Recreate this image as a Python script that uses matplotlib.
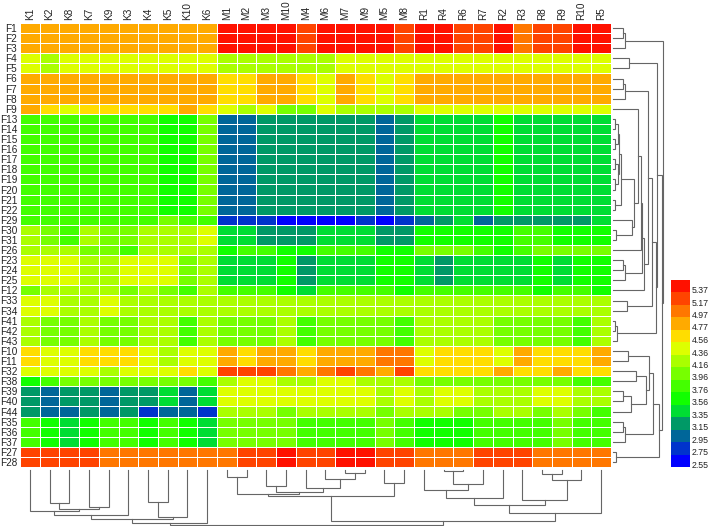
import matplotlib
matplotlib.use("Agg")
import matplotlib.pyplot as plt
from matplotlib.colors import ListedColormap, BoundaryNorm

plt.rcParams['font.family'] = ['Liberation Sans', 'DejaVu Sans']

# labels
col_labels = ["K1","K2","K8","K7","K9","K3","K4","K5","K10","K6",
              "M1","M2","M3","M10","M4","M6","M7","M9","M5","M8",
              "R1","R4","R6","R7","R2","R3","R8","R9","R10","R5"]
row_labels = ["F1","F2","F3","F4","F5","F6","F7","F8","F9",
              "F13","F14","F15","F16","F17","F18","F19","F20","F21","F22",
              "F29","F30","F31","F26","F23","F24","F25","F12","F33","F34",
              "F41","F42","F43","F10","F11","F32","F38","F39","F40","F44",
              "F35","F36","F37","F27","F28"]

# colour scale
levels = [2.55,2.75,2.95,3.15,3.35,3.56,3.76,3.96,4.16,4.36,4.56,4.77,4.97,5.17,5.37]
bounds = [2.45,2.65,2.85,3.05,3.25,3.45,3.66,3.86,4.06,4.26,4.46,4.66,4.87,5.07,5.27,5.47]
colors = ["#0000FF","#0033CC","#006699","#009966","#00DD33","#11FF00","#44FF00","#77FF00",
          "#AAFF00","#DDFF00","#FFDD00","#FFAA00","#FF7700","#FF4400","#FF1100"]

f1 = [4.77,4.77,4.77,4.77,4.77,4.77,4.77,4.77,4.77,4.77, 5.37,5.37,5.37,5.37,5.17,5.37,5.37,5.37,5.37,5.17, 5.37,5.37,5.17,5.17,5.37,4.97,5.17,5.17,5.37,5.37]
f4 = [4.36,4.16,4.36,4.36,4.36,4.36,4.36,4.36,4.36,4.36, 4.16,4.16,4.16,4.16,4.16,4.16,4.36,4.36,4.36,4.36, 4.36,4.36,4.36,4.36,4.36,4.36,4.36,4.36,4.36,4.36]
f6 = [4.77,4.77,4.77,4.77,4.77,4.77,4.77,4.77,4.77,4.77, 4.56,4.56,4.77,4.77,4.56,4.36,4.77,4.56,4.36,4.56, 4.77,4.77,4.77,4.77,4.77,4.77,4.77,4.77,4.77,4.77]
f9 = [4.77,4.56,4.36,4.56,4.56,4.56,4.56,4.56,4.77,4.56, 4.36,4.16,4.36,3.96,3.96,4.36,4.16,4.16,4.16,4.16, 4.36,4.36,4.36,4.36,4.36,4.36,4.36,4.36,4.36,4.36]
f13 = [3.76,3.76,3.76,3.76,3.76,3.76,3.76,3.56,3.56,3.96, 2.95,2.95,3.15,3.15,3.15,3.15,3.15,3.15,2.95,3.15, 3.35,3.35,3.35,3.35,3.56,3.35,3.35,3.35,3.35,3.35]
f29 = [3.76,3.76,3.76,3.76,3.76,3.76,3.76,3.96,3.76,3.76, 2.75,2.75,2.75,2.55,2.55,2.55,2.55,2.75,2.55,2.75, 2.95,3.15,3.35,2.95,3.15,3.15,3.15,3.15,3.15,3.35]
f30 = [4.16,3.96,3.76,4.16,3.96,3.96,4.16,4.16,4.16,4.36, 3.35,3.35,3.15,3.15,3.15,3.35,3.35,3.35,3.15,3.15, 3.56,3.56,3.56,3.56,3.56,3.76,3.76,3.56,3.56,3.56]
f26 = [4.16,4.16,4.16,3.96,3.96,3.76,4.16,4.16,4.16,4.16, 3.56,3.76,3.76,3.56,3.56,3.76,3.76,3.76,3.56,3.56, 3.96,3.96,3.96,3.76,3.56,3.76,3.96,3.96,3.96,3.96]
f23 = [4.36,4.36,4.36,4.16,4.16,4.36,4.36,4.36,3.96,4.16, 3.35,3.35,3.35,3.56,3.15,3.35,3.35,3.35,3.56,3.56, 3.35,3.15,3.35,3.35,3.35,3.35,3.56,3.35,3.56,3.56]
f12 = [3.96,4.16,4.16,4.16,4.16,3.96,4.16,3.96,3.76,4.16, 3.76,3.76,3.76,3.56,3.35,3.76,3.76,3.76,3.76,3.56, 3.76,3.76,3.76,3.76,3.76,3.76,3.56,3.76,3.76,3.56]
f33 = [4.36,4.36,4.16,4.16,4.36,4.16,4.16,4.16,4.16,4.16, 4.16,4.16,4.16,4.16,4.16,4.16,4.16,4.16,4.16,4.16, 4.16,4.16,4.16,4.16,4.16,4.16,4.16,4.16,4.16,4.16]
f41 = [4.16,3.96,3.96,4.16,3.96,3.96,4.16,4.16,3.76,4.16, 3.96,3.96,3.96,4.16,3.76,3.96,3.96,3.96,3.96,3.76, 4.16,4.16,4.16,4.16,3.96,3.96,3.96,3.96,3.76,4.16]
f10 = [4.56,4.36,4.36,4.56,4.56,4.56,4.36,4.16,4.36,4.36, 4.77,4.56,4.77,4.77,4.56,4.77,4.77,4.77,4.97,4.97, 4.36,4.56,4.56,4.56,4.36,4.77,4.56,4.56,4.56,4.77]
f32 = [4.36,4.36,4.36,4.36,4.16,4.36,4.36,4.36,4.56,4.36, 5.17,5.17,5.17,4.97,4.77,4.97,5.17,4.97,4.77,5.17, 4.56,4.56,4.56,4.56,4.77,4.56,4.56,4.77,4.56,4.56]
f38 = [3.56,3.76,3.96,3.96,3.96,3.96,3.96,3.96,3.96,3.76, 4.16,4.36,4.36,4.16,4.16,4.36,4.36,4.16,4.16,4.16, 3.96,3.96,3.96,3.96,3.96,3.96,3.96,3.96,3.76,3.76]
f39 = [3.15,2.95,3.15,3.15,2.95,3.15,3.15,3.35,2.95,3.35, 4.36,4.36,4.36,4.36,4.36,4.36,4.36,4.36,4.16,4.36, 4.16,4.36,4.36,4.16,4.16,4.16,4.36,4.36,4.16,4.16]
f44 = [3.15,2.95,2.95,3.15,2.95,3.15,2.75,2.95,2.95,2.75, 4.16,4.16,4.16,3.96,4.16,4.16,4.16,4.16,3.96,4.16, 4.16,4.16,3.96,3.96,4.16,4.16,3.96,4.16,3.96,3.76]
f35 = [3.76,3.56,3.35,3.56,3.76,3.76,3.56,3.76,3.56,3.35, 3.96,3.96,3.96,3.96,3.76,3.76,3.76,3.76,3.96,3.76, 3.56,3.56,3.56,3.76,3.76,3.76,3.76,3.96,3.76,3.76]
f27 = [5.17,5.17,5.17,5.17,4.97,4.97,4.97,4.97,4.97,4.97, 4.97,5.17,5.17,5.37,5.17,5.17,5.37,5.37,5.17,5.17, 4.97,4.97,4.97,5.17,5.17,5.17,4.97,4.97,4.97,4.97]

values = [f1]*3 + [f4]*2 + [f6]*3 + [f9] + [f13]*10 + [f29] + [f30]*2 + [f26] + [f23]*3 + [f12] \
    + [f33]*2 + [f41]*3 + [f10]*2 + [f32] + [f38] + [f39]*2 + [f44] + [f35]*3 + [f27]*2

# dendrograms as nested (left, right, height), leaves are row/column numbers
k_tree = (((((0, ((1,2,33.3), (3,4,37.3), 39.3), 41.3), 5, 45.3),
           ((6,7,31.7), 8, 47.3), 49.3), 9, 52.7))
m_tree = (((10,11,7), ((12,13,16), (14, (15,(16,17,2.7),9), 18), 22), 24), (18,19,12.7), 26)
r_tree = ((((((20, ((21,22,1),23,14), 20), 24, 27.7)),
           (25, ((26,27,4),28,10), 29.7), 35)), 29, 43)
col_tree = (k_tree, (m_tree, r_tree, 50.7), 55)

f13_tree = ((((9,10,2),(11,12,2),4.7), ((13,14,2),(15,16,2),4.7), 6), (17,18,2), 8)
f9_tree = (8, (f13_tree, (19,(20,21,2.7),19), 21.3), 25.3)
f23_tree = ((23,24,9.7),25,11.7)
upper_tree = ((3,4,15.7),
              ((((5,6,9.7),7,11.7), (((f9_tree,22,27.5), f23_tree, 29.3), 26, 31.3), 34.7),
               (27,28,13.7), 38.7), 44)
upper_tree = ((3,4,15.7),
              ((((((5,6,9.7),7,11.7), (((f9_tree,22,27.5), f23_tree, 29.3), 26, 31.3), 34.7),
                (27,28,13.7), 38.7)), ((29,30,2),31,4), 42.7), 44)
lower_tree = ((((32,33,15), ((34,35,23), ((36,37,9.7),38,17.7), 32.7), 36),
               ((39,40,9.7),41,11.7), 40), (42,43,2.7), 46)
row_tree = (((0,1,9.7),2,12), (upper_tree, lower_tree, 48.7), 50)


def draw_tree(ax, node, vertical):
    # returns (position, height) of the node
    if isinstance(node, int):
        return node + 0.5, 0
    p1, h1 = draw_tree(ax, node[0], vertical)
    p2, h2 = draw_tree(ax, node[1], vertical)
    h = node[2]
    pos = [p1, p1, p2, p2]
    hgt = [h1, h, h, h2]
    if vertical:
        ax.plot(pos, hgt, color="#666666", lw=0.8, solid_joinstyle="miter", clip_on=False)
    else:
        ax.plot(hgt, pos, color="#666666", lw=0.8, solid_joinstyle="miter", clip_on=False)
    return (p1 + p2) / 2, h


W, H = 708, 526
fig = plt.figure(figsize=(W / 100, H / 100), dpi=100)

# heatmap
ax = fig.add_axes([20 / W, (H - 467) / H, 591 / W, 444 / H])
cmap = ListedColormap(colors)
norm = BoundaryNorm(bounds, cmap.N)
mesh = ax.pcolormesh(values, cmap=cmap, norm=norm, edgecolors="#ffffff", linewidth=0.45)
ax.set_xlim(0, len(col_labels))
ax.set_ylim(len(row_labels), 0)
ax.set_xticks([i + 0.5 for i in range(len(col_labels))])
ax.set_xticklabels(col_labels, rotation=90, fontsize=7.2, color="#222222")
ax.set_yticks([i + 0.5 for i in range(len(row_labels))])
ax.set_yticklabels(row_labels, fontsize=7.2, color="#222222")
ax.xaxis.tick_top()
ax.tick_params(length=0, pad=2)
for s in ax.spines.values():
    s.set_visible(False)

# column dendrogram
ax2 = fig.add_axes([20 / W, 0, 591 / W, 56 / H])
draw_tree(ax2, col_tree, True)
ax2.set_xlim(0, len(col_labels))
ax2.set_ylim(56, 0)
ax2.axis("off")

# row dendrogram
ax3 = fig.add_axes([613 / W, (H - 467) / H, 53 / W, 444 / H])
draw_tree(ax3, row_tree, False)
ax3.set_xlim(0, 53)
ax3.set_ylim(len(row_labels), 0)
ax3.axis("off")

# colour key
cax = fig.add_axes([671 / W, (H - 467) / H, 19 / W, 187 / H])
cbar = fig.colorbar(mesh, cax=cax, ticks=levels, spacing="uniform")
cbar.outline.set_visible(False)
cbar.ax.minorticks_off()
cbar.ax.tick_params(length=0, pad=1, labelsize=6.3, labelcolor="#222222")
cbar.ax.set_yticklabels(["%.2f" % v for v in levels])
for t in cbar.ax.get_yticklabels():
    t.set_va("top")

plt.savefig("out.png", dpi=100)
